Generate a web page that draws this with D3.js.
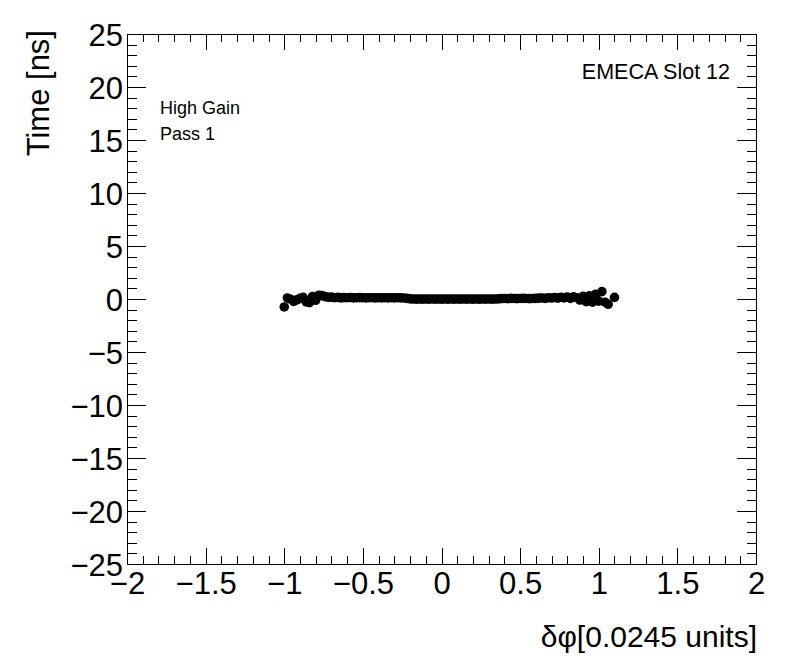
<!DOCTYPE html>
<html><head><meta charset="utf-8">
<script src="https://cdn.jsdelivr.net/npm/d3@7"></script>
<style>body{margin:0;background:#fff}svg{display:block}text{font-family:"Liberation Sans",Arial,Helvetica,sans-serif;fill:#000}</style>
</head><body>
<script>
const xTicks = [-2, -1.5, -1, -0.5, 0, 0.5, 1, 1.5, 2];
const yTicks = [-25, -20, -15, -10, -5, 0, 5, 10, 15, 20, 25];
const dphi = [-1.00,-0.98,-0.96,-0.94,-0.92,-0.90,-0.88,-0.86,-0.84,-0.82,-0.80,-0.78,-0.76,-0.74,-0.72,-0.70,
  -0.68,-0.66,-0.64,-0.62,-0.60,-0.58,-0.56,-0.54,-0.52,-0.50,-0.48,-0.46,-0.44,-0.42,-0.40,-0.38,-0.36,-0.34,-0.32,-0.30,
  -0.28,-0.26,-0.24,-0.22,-0.20,-0.18,-0.16,-0.14,-0.12,-0.10,-0.08,-0.06,-0.04,-0.02,0.00,0.02,0.04,0.06,0.08,0.10,
  0.12,0.14,0.16,0.18,0.20,0.22,0.24,0.26,0.28,0.30,0.32,0.34,0.36,0.38,0.40,0.42,0.44,0.46,0.48,0.50,0.52,0.54,0.56,
  0.58,0.60,0.62,0.64,0.66,0.68,0.70,0.72,0.74,0.76,0.78,0.80,0.82,0.84,0.86,0.88,0.90,0.92,0.94,0.96,0.98,1.00,
  1.02,1.04,1.06,1.10];
const timeNs = [-0.75,0.10,-0.02,-0.22,-0.08,0.06,0.16,-0.28,-0.34,0.22,-0.12,0.36,0.32,0.22,0.16,0.18,
  0.12,0.15,0.11,0.13,0.12,0.14,0.11,0.12,0.13,0.12,0.11,0.12,0.12,0.11,0.12,0.11,0.12,0.11,0.12,0.11,
  0.12,0.11,0.10,0.06,0.01,0.00,-0.01,0.00,-0.01,0.00,-0.01,0.00,-0.01,0.00,-0.01,0.00,-0.01,0.00,-0.01,0.00,
  -0.01,0.00,-0.01,0.00,-0.01,0.00,-0.01,0.00,-0.01,0.00,-0.01,0.00,0.01,0.04,0.05,0.04,0.06,0.05,0.04,0.05,0.06,0.05,0.04,
  0.05,0.06,0.08,0.10,0.06,0.12,0.09,0.14,0.08,0.16,0.10,0.18,0.05,0.20,0.12,-0.10,0.25,-0.25,0.30,-0.30,0.45,-0.20,
  0.70,-0.30,-0.50,0.15];
const xTitle = "δφ[0.0245 units]";
const yTitle = "Time [ns]";
const labels = ["High Gain", "Pass 1"];
const slotLabel = "EMECA Slot 12";

const W = 796, H = 672;
const L = 127, R = 756, T = 34, B = 564;
const svg = d3.select("body").append("svg").attr("width", W).attr("height", H);
const x = d3.scaleLinear().domain([-2, 2]).range([L, R]);
const y = d3.scaleLinear().domain([-25, 25]).range([B, T]);
const fmt = d => (d < 0 ? "\u2212" : "") + Math.abs(d);

const xMinor = d3.range(-20, 21).map(i => i / 10);
const yMinor = d3.range(-25, 26);

const gBot = svg.append("g").attr("transform", `translate(0,${B})`)
  .call(d3.axisBottom(x).tickValues(xTicks).tickFormat(fmt).tickSizeInner(-16).tickSizeOuter(0).tickPadding(8));
svg.append("g").attr("transform", `translate(0,${B})`)
  .call(d3.axisBottom(x).tickValues(xMinor).tickFormat("").tickSizeInner(-8).tickSizeOuter(0));
svg.append("g").attr("transform", `translate(0,${T})`)
  .call(d3.axisTop(x).tickValues(xTicks).tickFormat("").tickSizeInner(-16).tickSizeOuter(0));
svg.append("g").attr("transform", `translate(0,${T})`)
  .call(d3.axisTop(x).tickValues(xMinor).tickFormat("").tickSizeInner(-8).tickSizeOuter(0));
const gLeft = svg.append("g").attr("transform", `translate(${L},0)`)
  .call(d3.axisLeft(y).tickValues(yTicks).tickFormat(fmt).tickSizeInner(-19).tickSizeOuter(0).tickPadding(4));
svg.append("g").attr("transform", `translate(${L},0)`)
  .call(d3.axisLeft(y).tickValues(yMinor).tickFormat("").tickSizeInner(-9.5).tickSizeOuter(0));
svg.append("g").attr("transform", `translate(${R},0)`)
  .call(d3.axisRight(y).tickValues(yTicks).tickFormat("").tickSizeInner(-19).tickSizeOuter(0));
svg.append("g").attr("transform", `translate(${R},0)`)
  .call(d3.axisRight(y).tickValues(yMinor).tickFormat("").tickSizeInner(-9.5).tickSizeOuter(0));

svg.selectAll(".domain").remove();
svg.selectAll(".tick line").attr("stroke", "#000").attr("stroke-width", 1).attr("shape-rendering", "crispEdges");
gBot.selectAll("text").attr("font-size", 31).attr("dy", "0.71em");
gLeft.selectAll("text").attr("font-size", 31).attr("dy", "0.36em");
svg.selectAll(".tick text").style("font-family", '"Liberation Sans",Arial,sans-serif').attr("fill", "#000");

svg.append("rect").attr("x", L).attr("y", T).attr("width", R - L).attr("height", B - T)
  .attr("fill", "none").attr("stroke", "#000").attr("stroke-width", 1).attr("shape-rendering", "crispEdges");

svg.append("g").selectAll("circle").data(dphi.map((d, i) => [d, timeNs[i]])).join("circle")
  .attr("cx", d => x(d[0])).attr("cy", d => y(d[1])).attr("r", 4.8).attr("fill", "#000");

svg.append("text").attr("x", R + 1).attr("y", 647).attr("text-anchor", "end").attr("font-size", 30).text(xTitle);
svg.append("text").attr("transform", `translate(49,${T - 4}) rotate(-90)`).attr("text-anchor", "end").attr("font-size", 31).text(yTitle);

svg.append("text").attr("x", 160).attr("y", 114).attr("font-size", 18).text(labels[0]);
svg.append("text").attr("x", 160).attr("y", 140).attr("font-size", 18).text(labels[1]);
svg.append("text").attr("x", 730).attr("y", 79).attr("text-anchor", "end").attr("font-size", 21.5).text(slotLabel);
</script>
</body></html>
